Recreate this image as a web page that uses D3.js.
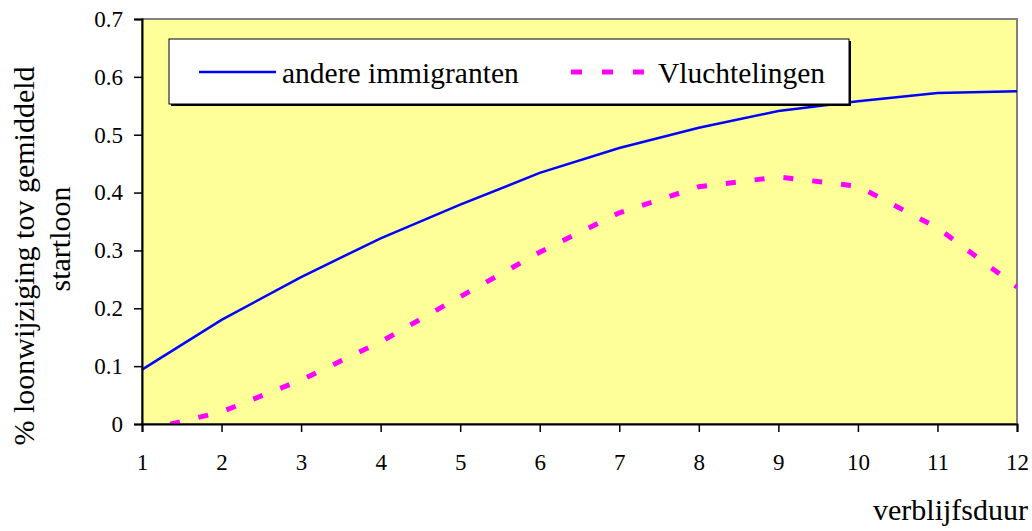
<!DOCTYPE html>
<html>
<head>
<meta charset="utf-8">
<script src="https://cdn.jsdelivr.net/npm/d3@7"></script>
<style>
  body { margin: 0; background: #fff; }
  text { font-family: "Liberation Serif", "Times New Roman", serif; fill: #000; }
</style>
</head>
<body>
<script>
var years = [1, 2, 3, 4, 5, 6, 7, 8, 9, 10, 11, 12],
    andere = [0.094, 0.18, 0.254, 0.321, 0.379, 0.434, 0.477, 0.512, 0.541, 0.558, 0.572, 0.575],
    vluchtelingen = [-0.012, 0.021, 0.076, 0.142, 0.22, 0.297, 0.365, 0.41, 0.427, 0.411, 0.339, 0.237],
    yTicks = [0, 0.1, 0.2, 0.3, 0.4, 0.5, 0.6, 0.7];

var width = 1032,
    height = 531,
    margin = {top: 19, right: 15, bottom: 107, left: 142};

var svg = d3.select("body").append("svg")
    .attr("width", width)
    .attr("height", height);

var x = d3.scaleLinear()
    .domain([1, 12])
    .range([margin.left, width - margin.right]);

var y = d3.scaleLinear()
    .domain([0, 0.7])
    .range([height - margin.bottom, margin.top]);

// plot area
svg.append("rect")
    .attr("x", x(1))
    .attr("y", y(0.7))
    .attr("width", x(12) - x(1))
    .attr("height", y(0) - y(0.7))
    .attr("fill", "#ffff99")
    .attr("stroke", "#808080")
    .attr("stroke-width", 2);

svg.append("clipPath")
    .attr("id", "clip")
  .append("rect")
    .attr("x", x(1))
    .attr("y", y(0.7))
    .attr("width", x(12) - x(1))
    .attr("height", y(0) - y(0.7));

var line = d3.line()
    .x((d, i) => x(years[i]))
    .y((d) => y(d));

svg.append("path")
    .datum(vluchtelingen)
    .attr("clip-path", "url(#clip)")
    .attr("fill", "none")
    .attr("stroke", "#ff00ff")
    .attr("stroke-width", 5)
    .attr("stroke-dasharray", "10,19")
    .attr("d", line);

svg.append("path")
    .datum(andere)
    .attr("fill", "none")
    .attr("stroke", "#0000ff")
    .attr("stroke-width", 2.5)
    .attr("d", line);

// axes
var yAxis = svg.append("g")
    .attr("transform", `translate(${x(1)},0)`)
    .call(d3.axisLeft(y).tickValues(yTicks).tickSize(8).tickPadding(11)
      .tickFormat((d) => d === 0 ? "0" : d3.format(".1f")(d)));

var xAxis = svg.append("g")
    .attr("transform", `translate(0,${y(0)})`)
    .call(d3.axisBottom(x).tickValues(years).tickSize(8).tickPadding(22)
      .tickFormat(d3.format("d")));

[yAxis, xAxis].forEach((g) => {
  g.select(".domain").attr("stroke", "#000").attr("stroke-width", 2);
  g.selectAll(".tick line").attr("stroke", "#000").attr("stroke-width", 1.5);
  g.selectAll(".tick text")
      .style("font-family", '"Liberation Serif", serif')
      .style("font-size", "23px")
      .attr("fill", "#000");
});

// legend
var legend = svg.append("g");

legend.append("rect")
    .attr("x", 171).attr("y", 41)
    .attr("width", 680).attr("height", 65)
    .attr("fill", "#000");

legend.append("rect")
    .attr("x", 169).attr("y", 39)
    .attr("width", 680).attr("height", 65)
    .attr("fill", "#fff")
    .attr("stroke", "#000")
    .attr("stroke-width", 1);

legend.append("line")
    .attr("x1", 199).attr("x2", 276)
    .attr("y1", 72).attr("y2", 72)
    .attr("stroke", "#0000ff")
    .attr("stroke-width", 2.5);

legend.append("text")
    .attr("x", 282).attr("y", 83)
    .style("font-size", "29.5px")
    .text("andere immigranten");

legend.append("line")
    .attr("x1", 571).attr("x2", 645)
    .attr("y1", 72).attr("y2", 72)
    .attr("stroke", "#ff00ff")
    .attr("stroke-width", 5)
    .attr("stroke-dasharray", "11,20");

legend.append("text")
    .attr("x", 658).attr("y", 83)
    .style("font-size", "29.5px")
    .text("Vluchtelingen");

// axis titles
svg.append("text")
    .attr("transform", "translate(34,256) rotate(-90)")
    .attr("text-anchor", "middle")
    .style("font-size", "30px")
    .text("% loonwijziging tov gemiddeld");

svg.append("text")
    .attr("transform", "translate(70,239) rotate(-90)")
    .attr("text-anchor", "middle")
    .style("font-size", "30px")
    .text("startloon");

svg.append("text")
    .attr("x", 1028).attr("y", 520)
    .attr("text-anchor", "end")
    .style("font-size", "30px")
    .text("verblijfsduur");
</script>
</body>
</html>
